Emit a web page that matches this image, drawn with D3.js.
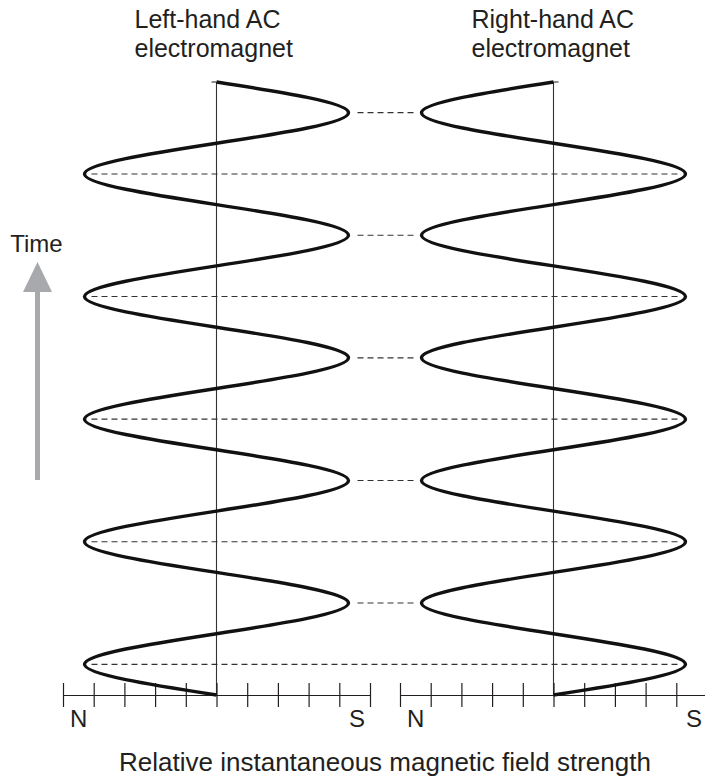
<!DOCTYPE html>
<html>
<head>
<meta charset="utf-8">
<script src="https://cdn.jsdelivr.net/npm/d3@7/dist/d3.min.js"></script>
<style>
  html, body { margin: 0; padding: 0; background: #fff; }
  svg { display: block; }
  text { font-family: "Liberation Sans", Arial, Helvetica, sans-serif; fill: #231f20; }
</style>
</head>
<body>
<svg id="chart" width="705" height="778"></svg>
<script>
// ---- data ----
// time in cycles (0 = bottom), field strength in relative units (-5 = N ... +5 = S)
const times = [0, 0.25, 0.5, 0.75, 1, 1.25, 1.5, 1.75, 2, 2.25, 2.5, 2.75, 3, 3.25, 3.5, 3.75, 4, 4.25, 4.5, 4.75, 5];
const leftField  = [0, -4.3, 0, 4.3, 0, -4.3, 0, 4.3, 0, -4.3, 0, 4.3, 0, -4.3, 0, 4.3, 0, -4.3, 0, 4.3, 0];
const rightField = [0, 4.3, 0, -4.3, 0, 4.3, 0, -4.3, 0, 4.3, 0, -4.3, 0, 4.3, 0, -4.3, 0, 4.3, 0, -4.3, 0];
const tickValues = [-5, -4, -3, -2, -1, 0, 1, 2, 3, 4, 5];
const poleLabels = ["N", "S"];
const panelTitles = [["Left-hand AC", "electromagnet"], ["Right-hand AC", "electromagnet"]];
const axisTitle = "Relative instantaneous magnetic field strength";
const timeLabel = "Time";

// ---- layout ----
const svg = d3.select("#chart");
const y = d3.scaleLinear().domain([0, 5]).range([695, 82]);
const xL = d3.scaleLinear().domain([-5, 5]).range([63, 370]);
const xR = d3.scaleLinear().domain([-5, 5]).range([400, 707]);
const ink = "#231f20";

const panels = [
  { x: xL, field: leftField, titles: panelTitles[0], stubDir: -1 },
  { x: xR, field: rightField, titles: panelTitles[1], stubDir: 1 }
];

// dashed connector lines (drawn first, behind curves)
const dashG = svg.append("g").attr("stroke", "#333").attr("stroke-width", 1.1).attr("stroke-dasharray", "6,4").attr("fill", "none");
times.forEach((t, i) => {
  const a = leftField[i], b = rightField[i];
  if (a === 0) return;
  if (a < 0) {
    // left wave at N, right wave at S: long line across both panels
    dashG.append("line")
      .attr("x1", xL(a) + 7).attr("x2", xR(b) - 7)
      .attr("y1", y(t)).attr("y2", y(t));
  } else {
    // left wave at S, right wave at N: short gap between the two curves
    dashG.append("line")
      .attr("x1", xL(a) + 9).attr("x2", xR(b) - 6)
      .attr("y1", y(t)).attr("y2", y(t));
  }
});

panels.forEach(p => {
  const g = svg.append("g");
  // vertical zero line
  g.append("line")
    .attr("x1", p.x(0)).attr("x2", p.x(0))
    .attr("y1", y(5)).attr("y2", y(0))
    .attr("stroke", "#333").attr("stroke-width", 1.1);
  // small stub at top
  g.append("line")
    .attr("x1", p.x(0)).attr("x2", p.x(0) + 5 * p.stubDir)
    .attr("y1", y(5)).attr("y2", y(5))
    .attr("stroke", "#333").attr("stroke-width", 1.1);

  // axis
  const axis = d3.axisBottom(p.x).tickValues(tickValues).tickSize(12).tickSizeOuter(0).tickFormat("");
  const ag = g.append("g").attr("transform", `translate(0,${y(0)})`).call(axis);
  ag.select(".domain").attr("stroke", ink).attr("stroke-width", 1.2);
  ag.selectAll(".tick line").attr("y1", -12).attr("y2", 12).attr("stroke", ink).attr("stroke-width", 1.2);

  // pole labels
  g.append("text").attr("x", p.x(-5) + 7).attr("y", 727).attr("font-size", 24).attr("text-anchor", "start").text(poleLabels[0]);
  g.append("text").attr("x", p.x(5) - 5).attr("y", 727).attr("font-size", 24).attr("text-anchor", "end").text(poleLabels[1]);

  // wave
  const line = d3.line()
    .x((d, i) => p.x(d))
    .y((d, i) => y(times[i]))
    .curve(d3.curveNatural);
  g.append("path").datum(p.field)
    .attr("d", line)
    .attr("fill", "none").attr("stroke", "#111").attr("stroke-width", 3.4)
    .attr("stroke-linejoin", "round");

  // titles
  p.titles.forEach((s, k) => {
    g.append("text").attr("x", p.x(0) - 82).attr("y", 28 + k * 29).attr("font-size", 25).text(s);
  });
});

// bottom axis title
svg.append("text").attr("x", 385).attr("y", 771).attr("font-size", 26).attr("text-anchor", "middle").text(axisTitle);

// time arrow
const ag = svg.append("g");
ag.append("line").attr("x1", 37.5).attr("x2", 37.5).attr("y1", 480).attr("y2", 288)
  .attr("stroke", "#a7a9ac").attr("stroke-width", 5);
ag.append("path").attr("d", "M23,292 L37.5,262 L52,292 Z").attr("fill", "#a7a9ac");
svg.append("text").attr("x", 36.5).attr("y", 252).attr("font-size", 24).attr("text-anchor", "middle").text(timeLabel);
</script>
</body>
</html>
